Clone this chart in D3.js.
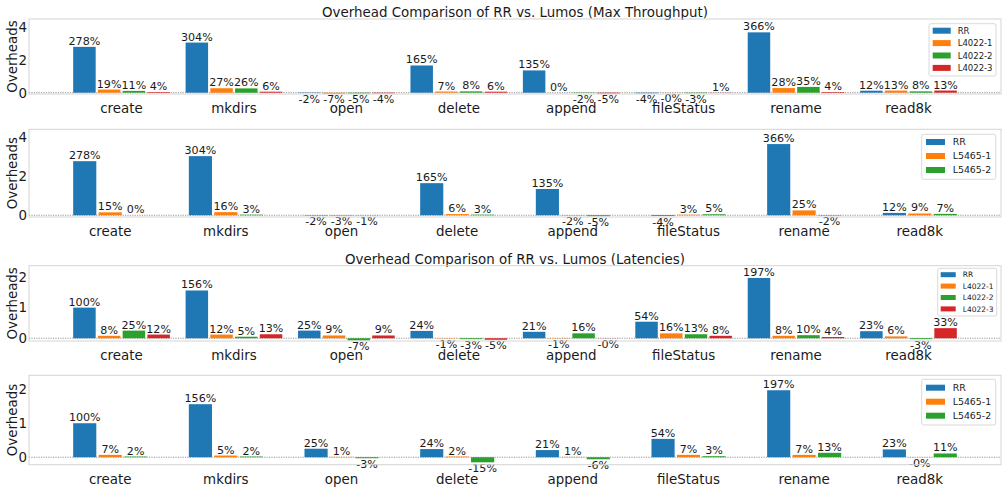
<!DOCTYPE html>
<html>
<head>
<meta charset="utf-8">
<script src="https://cdn.jsdelivr.net/npm/d3@7"></script>
<style>
  body { margin: 0; background: #fff; }
  text { font-family: "DejaVu Sans", sans-serif; fill: #1a1a1a; }
</style>
</head>
<body>
<div id="chart"></div>
<script>
// categories shared by all four panels
const categories = ["create", "mkdirs", "open", "delete", "append", "fileStatus", "rename", "read8k"];

// max throughput overheads
const rrThroughput     = [2.78, 3.04, -0.02, 1.65, 1.35, -0.04, 3.66, 0.12];
const l4022_1_tp       = [0.19, 0.27, -0.07, 0.07, 0.00, -0.004, 0.28, 0.13];
const l4022_2_tp       = [0.11, 0.26, -0.05, 0.08, -0.02, -0.03, 0.35, 0.08];
const l4022_3_tp       = [0.04, 0.06, -0.04, 0.06, -0.05, 0.01, 0.04, 0.13];
const l5465_1_tp       = [0.15, 0.16, -0.03, 0.06, -0.02, 0.03, 0.25, 0.09];
const l5465_2_tp       = [0.00, 0.03, -0.01, 0.03, -0.05, 0.05, -0.02, 0.07];

// latency overheads
const rrLatency        = [1.00, 1.56, 0.25, 0.24, 0.21, 0.54, 1.97, 0.23];
const l4022_1_lat      = [0.08, 0.12, 0.09, -0.01, -0.01, 0.16, 0.08, 0.06];
const l4022_2_lat      = [0.25, 0.05, -0.07, -0.03, 0.16, 0.13, 0.10, -0.03];
const l4022_3_lat      = [0.12, 0.13, 0.09, -0.05, -0.004, 0.08, 0.04, 0.33];
const l5465_1_lat      = [0.07, 0.05, 0.01, 0.02, 0.01, 0.07, 0.07, -0.004];
const l5465_2_lat      = [0.02, 0.02, -0.03, -0.15, -0.06, 0.03, 0.13, 0.11];

const names4022 = ["RR", "L4022-1", "L4022-2", "L4022-3"];
const names5465 = ["RR", "L5465-1", "L5465-2"];
const colors = ["#1f77b4", "#ff7f0e", "#2ca02c", "#d62728"];

const yTicksTp = [0, 2, 4];
const yTicksLat = [0, 1, 2];

const titleTp = "Overhead Comparison of RR vs. Lumos (Max Throughput)";
const titleLat = "Overhead Comparison of RR vs. Lumos (Latencies)";

// layout of each subplot
const panels = [
  {title: titleTp, top: 19, bottom: 94, names: names4022,
   series: [rrThroughput, l4022_1_tp, l4022_2_tp, l4022_3_tp],
   yDomain: [-0.08, 4.47], ticks: yTicksTp,
   legend: {x: 929, y: 23.7, w: 67, h: 52.3, pad: 7, step: 12.4, px: 3.7, pw: 18, ph: 6, tx: 28.7, fs: 8.5}},
  {title: null, top: 129.3, bottom: 217, names: names5465,
   series: [rrThroughput, l5465_1_tp, l5465_2_tp],
   yDomain: [-0.09, 4.42], ticks: yTicksTp,
   legend: {x: 921.7, y: 134.3, w: 74, h: 45, pad: 7.7, step: 14, px: 4.3, pw: 19, ph: 6, tx: 31, fs: 9.4}},
  {title: titleLat, top: 265.7, bottom: 341, names: names4022,
   series: [rrLatency, l4022_1_lat, l4022_2_lat, l4022_3_lat],
   yDomain: [-0.09, 2.37], ticks: yTicksLat,
   legend: {x: 937.7, y: 268.3, w: 59, h: 47.7, pad: 6.4, step: 11.4, px: 3, pw: 15, ph: 5, tx: 25, fs: 7.5}},
  {title: null, top: 375.3, bottom: 464.7, names: names5465,
   series: [rrLatency, l5465_1_lat, l5465_2_lat],
   yDomain: [-0.22, 2.41], ticks: yTicksLat,
   legend: {x: 921.7, y: 379.3, w: 74, h: 45.7, pad: 8.4, step: 14, px: 4.3, pw: 19, ph: 6, tx: 31, fs: 9.4}}
];

const left = 29, right = 1001;
const barW = 0.2, barStep = 0.22;

const svg = d3.select("#chart")
  .append("svg")
    .attr("width", 1007)
    .attr("height", 492);

const fmt = v => (v < 0 ? "-" : "") + Math.abs(Math.round(v * 100)) + "%";

panels.forEach(p => {
  const n = p.series.length;
  const offsets = d3.range(n).map(i => (i - (n - 1) / 2) * barStep);

  // matplotlib style 5% margins around the bars
  const lo = offsets[0] - barW / 2;
  const hi = categories.length - 1 + offsets[n - 1] + barW / 2;
  const pad = 0.05 * (hi - lo);
  const x = d3.scaleLinear().domain([lo - pad, hi + pad]).range([left, right]);
  const y = d3.scaleLinear().domain(p.yDomain).range([p.bottom, p.top]);
  const px = v => x(v) - x(0);

  const g = svg.append("g");

  // title
  if (p.title) {
    g.append("text")
      .attr("x", (left + right) / 2)
      .attr("y", p.top - 2)
      .attr("text-anchor", "middle")
      .style("font-size", "13.4px")
      .text(p.title);
  }

  // zero line
  g.append("line")
    .attr("x1", left).attr("x2", right)
    .attr("y1", y(0)).attr("y2", y(0))
    .attr("stroke", "#8c8c8c")
    .attr("stroke-width", 0.9)
    .attr("stroke-dasharray", "1.2,1.2");

  // bars
  p.series.forEach((vals, s) => {
    g.selectAll(null)
      .data(vals)
      .join("rect")
        .attr("x", (d, i) => x(i + offsets[s]) - px(barW) / 2)
        .attr("y", d => y(Math.max(0, d)))
        .attr("width", px(barW))
        .attr("height", d => Math.abs(y(d) - y(0)))
        .attr("fill", colors[s]);

    g.selectAll(null)
      .data(vals)
      .join("text")
        .attr("x", (d, i) => x(i + offsets[s]))
        .attr("y", d => d >= 0 ? y(d) - 2 : y(d) + 9.5)
        .attr("text-anchor", "middle")
        .style("font-size", "11.1px")
        .text(d => fmt(d));
  });

  // frame
  g.append("rect")
    .attr("x", left).attr("y", p.top)
    .attr("width", right - left).attr("height", p.bottom - p.top)
    .attr("fill", "none")
    .attr("stroke", "#d4d4d4")
    .attr("stroke-width", 1);

  // y ticks
  g.selectAll(null)
    .data(p.ticks)
    .join("text")
      .attr("x", 27)
      .attr("y", d => y(d))
      .attr("dy", "0.36em")
      .attr("text-anchor", "end")
      .style("font-size", "13.4px")
      .text(d => d);

  // x ticks
  g.selectAll(null)
    .data(categories)
    .join("text")
      .attr("x", (d, i) => x(i))
      .attr("y", p.bottom + 19)
      .attr("text-anchor", "middle")
      .style("font-size", "13.4px")
      .text(d => d);

  // y label
  g.append("text")
    .attr("transform", `translate(17, ${(p.top + p.bottom) / 2}) rotate(-90)`)
    .attr("text-anchor", "middle")
    .style("font-size", "13.4px")
    .text("Overheads");

  // legend
  const L = p.legend;
  const lg = g.append("g").attr("transform", `translate(${L.x}, ${L.y})`);
  lg.append("rect")
    .attr("width", L.w).attr("height", L.h)
    .attr("rx", 2)
    .attr("fill", "#fff")
    .attr("fill-opacity", 0.85)
    .attr("stroke", "#d9d9d9");
  p.names.forEach((name, i) => {
    const cy = L.pad + i * L.step;
    lg.append("rect")
      .attr("x", L.px).attr("y", cy - L.ph / 2)
      .attr("width", L.pw).attr("height", L.ph)
      .attr("fill", colors[i]);
    lg.append("text")
      .attr("x", L.tx).attr("y", cy)
      .attr("dy", "0.36em")
      .style("font-size", L.fs + "px")
      .text(name);
  });
});
</script>
</body>
</html>
